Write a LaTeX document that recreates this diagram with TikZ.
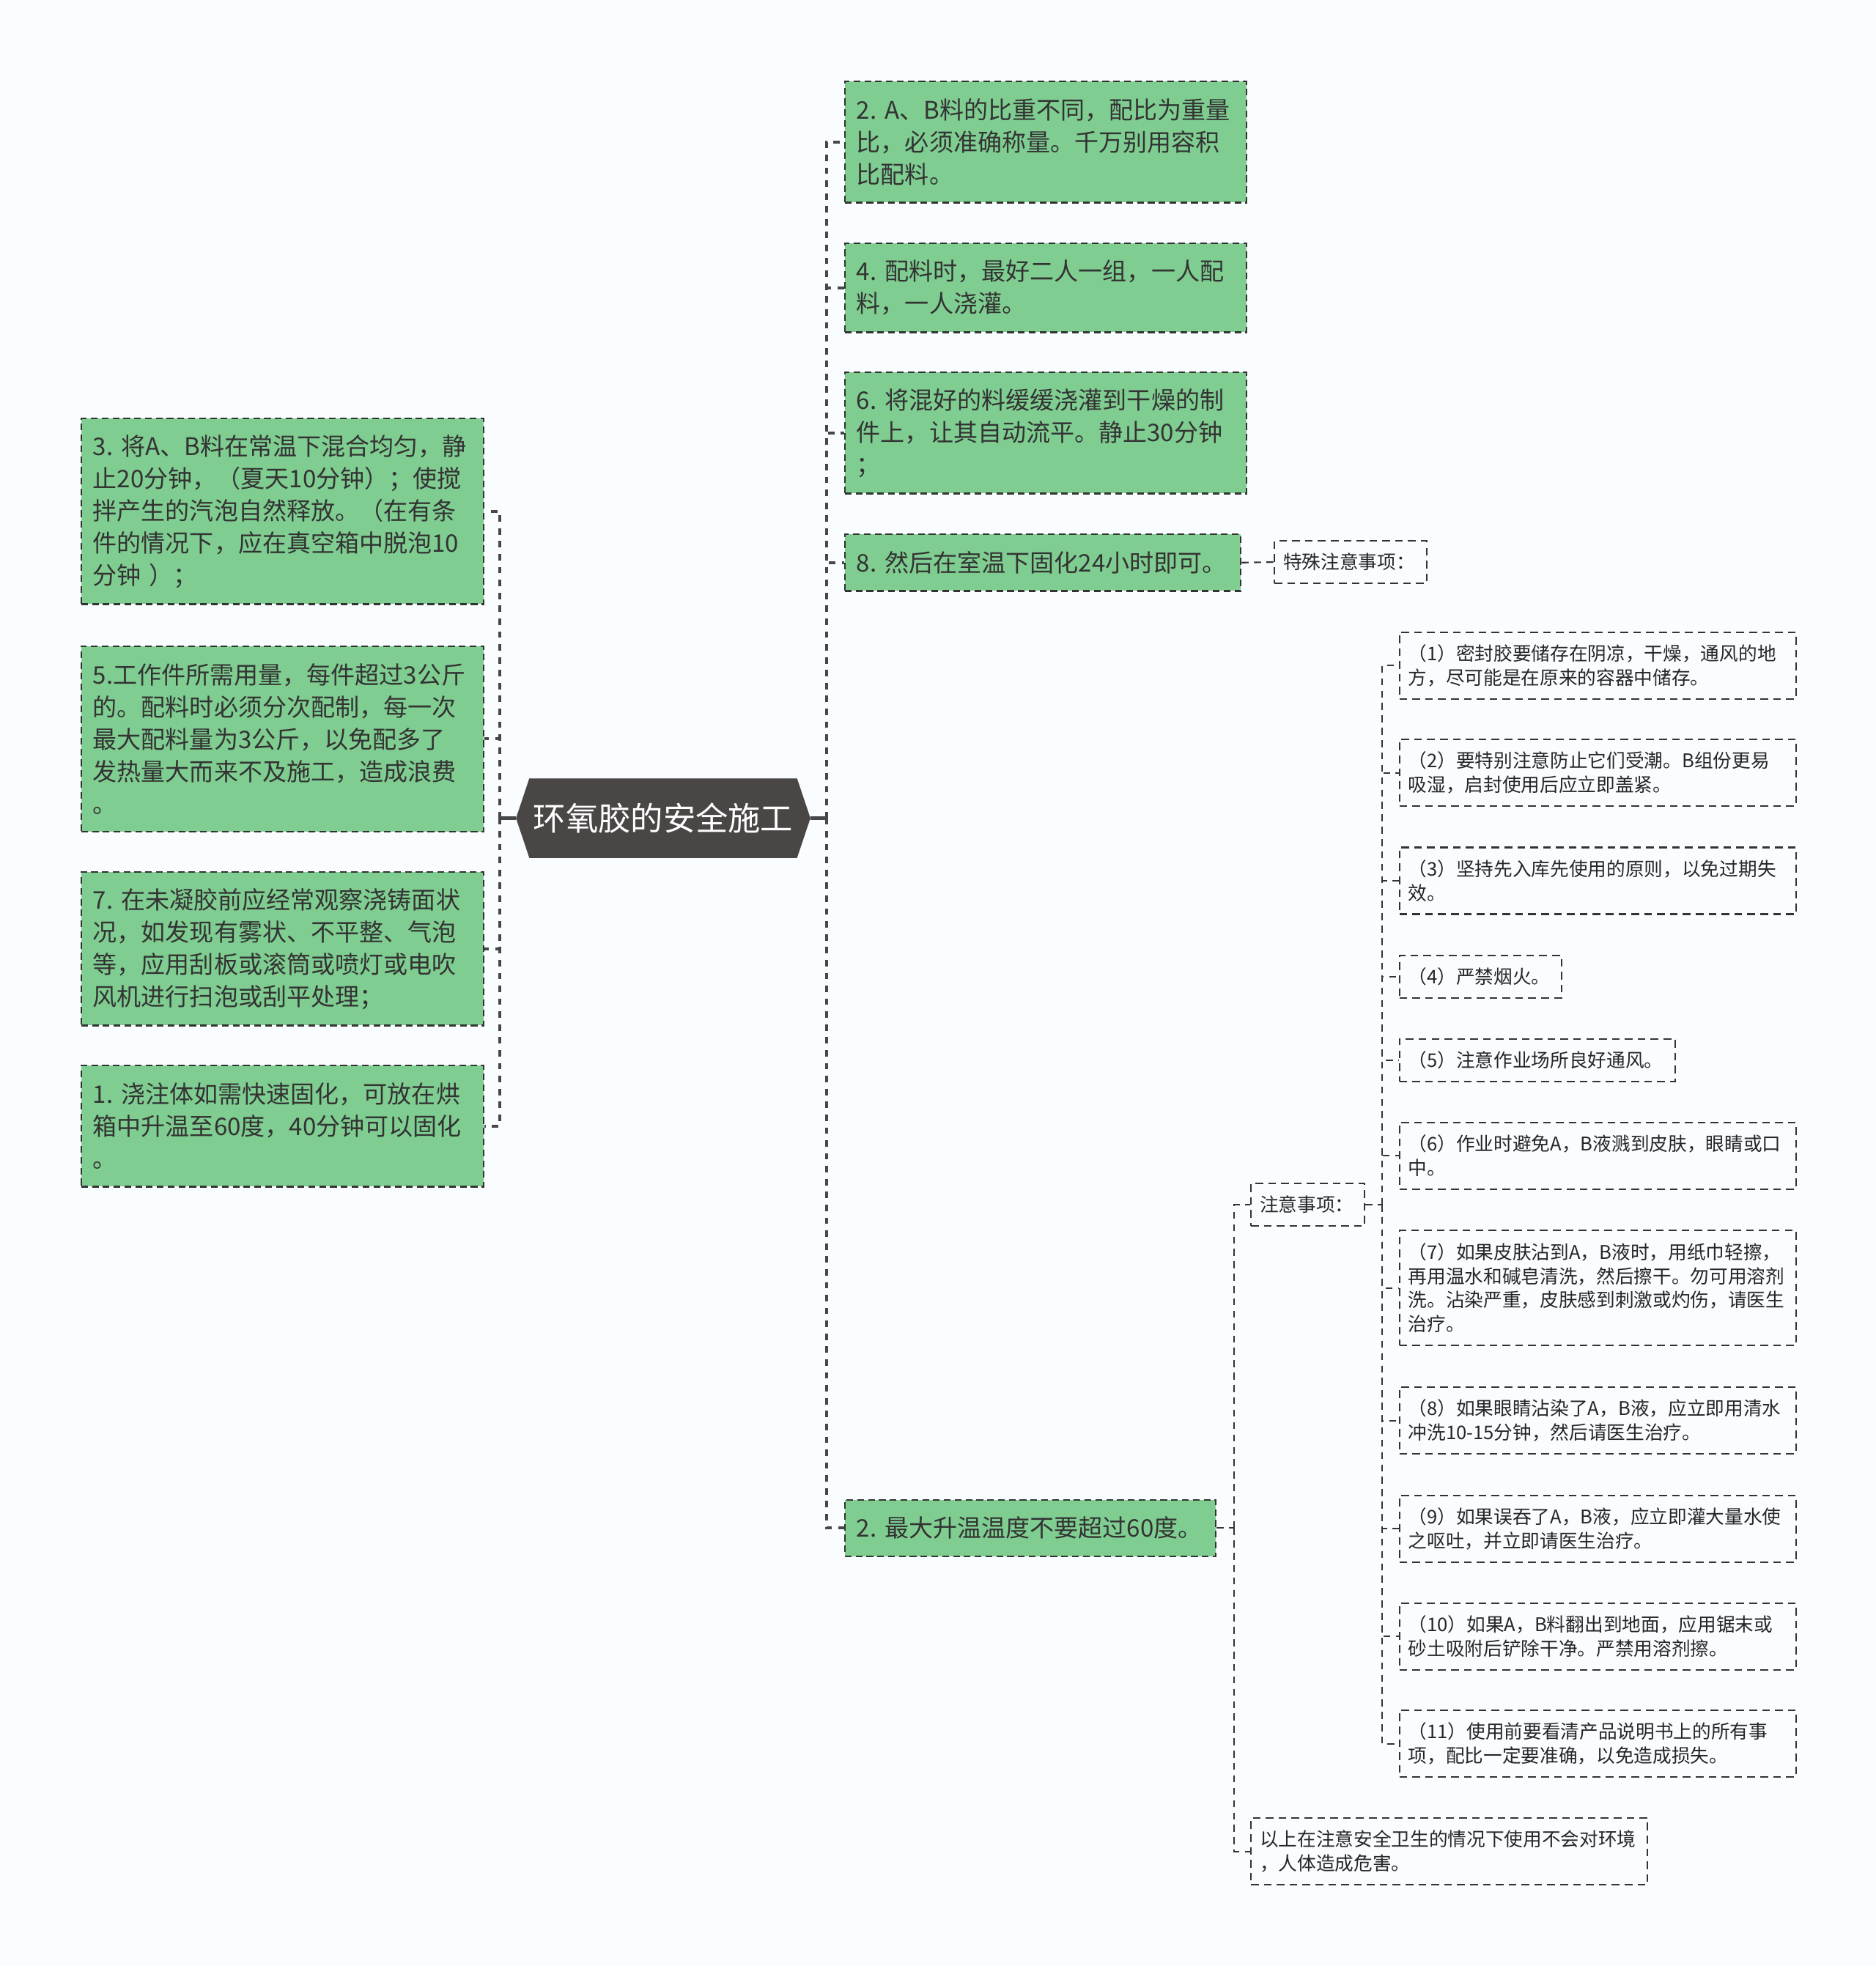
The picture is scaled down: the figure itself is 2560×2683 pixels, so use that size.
\documentclass[tikz,border=0pt]{standalone}
\usepackage{fontspec}
\setmainfont{Noto Sans CJK SC}
\usetikzlibrary{shapes.symbols}
\definecolor{leaf}{HTML}{7FCD91}
\definecolor{hub}{HTML}{4B4646}
\definecolor{edge}{HTML}{333333}
\definecolor{paper}{RGB}{250,253,255}

\begin{document}
\begin{tikzpicture}[x=0.01cm,y=-0.01cm,
    rootbox/.style={shape=signal,signal to=west and east,signal pointer angle=143,
      fill=hub,draw=hub,text=white,minimum width=4cm,minimum height=1.07cm,
      inner sep=0pt,font=\fontsize{12.6pt}{15pt}\selectfont},
    gbox/.style={fill=leaf,draw=edge,line width=0.7pt,dash pattern=on 2.6pt off 1.6pt,
      anchor=north west,align=left,inner xsep=0.16cm,inner ysep=0pt,text=edge,
      font=\fontsize{9.4pt}{12.52pt}\selectfont},
    sbox/.style={fill=paper,draw=edge,line width=0.6pt,dash pattern=on 3pt off 2pt,
      anchor=north west,align=left,inner xsep=0.12cm,inner ysep=0pt,text=black!85,
      font=\fontsize{7.3pt}{9.33pt}\selectfont},
    stem/.style={draw=edge!90,line width=1.2pt},
    trunk/.style={draw=edge!90,line width=1.2pt,dash pattern=on 2.5pt off 2.5pt},
    twig/.style={draw=edge,line width=0.6pt,dash pattern=on 2.7pt off 2.1pt}]

  \fill[paper] (0,0) rectangle (2560,2683);

  % hub
  \node[rootbox] (root) at (905,1116.5) {环氧胶的安全施工};
  \coordinate (ltrunk) at (682,1116.5);
  \coordinate (rtrunk) at (1128,1116.5);

  % left steps
  \node[gbox,text width=5.17cm,minimum height=2.53cm] (l3) at (109.5,570)
    {3.~将A、B料在常温下混合均匀，静\\止20分钟，（夏天10分钟）；使搅\\拌产生的汽泡自然释放。（在有条\\件的情况下，应在真空箱中脱泡10\\分钟~）；};
  \node[gbox,text width=5.17cm,minimum height=2.53cm] (l5) at (109.5,880.5)
    {5.工作件所需用量，每件超过3公斤\\的。配料时必须分次配制，每一次\\最大配料量为3公斤，以免配多了\\发热量大而来不及施工，造成浪费\\。};
  \node[gbox,text width=5.17cm,minimum height=2.09cm] (l7) at (109.5,1189)
    {7.~在未凝胶前应经常观察浇铸面状\\况，如发现有雾状、不平整、气泡\\等，应用刮板或滚筒或喷灯或电吹\\风机进行扫泡或刮平处理；};
  \node[gbox,text width=5.17cm,minimum height=1.65cm] (l1) at (109.5,1453)
    {1.~浇注体如需快速固化，可放在烘\\箱中升温至60度，40分钟可以固化\\。};

  % right steps
  \node[gbox,text width=5.16cm,minimum height=1.65cm] (r2) at (1151.6,110)
    {2.~A、B料的比重不同，配比为重量\\比，必须准确称量。千万别用容积\\比配料。};
  \node[gbox,text width=5.16cm,minimum height=1.21cm] (r4) at (1151.6,331)
    {4.~配料时，最好二人一组，一人配\\料，一人浇灌。};
  \node[gbox,text width=5.16cm,minimum height=1.65cm] (r6) at (1151.6,507)
    {6.~将混好的料缓缓浇灌到干燥的制\\件上，让其自动流平。静止30分钟\\；};
  \node[gbox,text width=5.08cm,minimum height=0.77cm] (r8) at (1151.6,728)
    {8.~然后在室温下固化24小时即可。};
  \node[gbox,text width=4.74cm,minimum height=0.77cm] (rb) at (1151.6,2045.5)
    {2.~最大升温温度不要超过60度。};

  \node[sbox,text width=1.84cm,minimum height=0.58cm] (t1) at (1738,737) {特殊注意事项：};
  \node[sbox,text width=1.31cm,minimum height=0.58cm] (n1) at (1706,1614) {注意事项：};
  \node[sbox,text width=5.17cm,minimum height=0.91cm] (z1) at (1706,2480)
    {以上在注意安全卫生的情况下使用不会对环境\\，人体造成危害。};

  % notes
  \node[sbox,text width=5.17cm,minimum height=0.91cm] (s1) at (1908.6,861.5)
    {（1）密封胶要储存在阴凉，干燥，通风的地\\方，尽可能是在原来的容器中储存。};
  \node[sbox,text width=5.17cm,minimum height=0.91cm] (s2) at (1908.6,1008)
    {（2）要特别注意防止它们受潮。B组份更易\\吸湿，启封使用后应立即盖紧。};
  \node[sbox,text width=5.17cm,minimum height=0.91cm] (s3) at (1908.6,1155.4)
    {（3）坚持先入库先使用的原则，以免过期失\\效。};
  \node[sbox,text width=1.97cm,minimum height=0.58cm] (s4) at (1908.6,1302.7)
    {（4）严禁烟火。};
  \node[sbox,text width=3.52cm,minimum height=0.58cm] (s5) at (1908.6,1416.5)
    {（5）注意作业场所良好通风。};
  \node[sbox,text width=5.17cm,minimum height=0.91cm] (s6) at (1908.6,1530.6)
    {（6）作业时避免A，B液溅到皮肤，眼睛或口\\中。};
  \node[sbox,text width=5.17cm,minimum height=1.57cm] (s7) at (1908.6,1678)
    {（7）如果皮肤沾到A，B液时，用纸巾轻擦，\\再用温水和碱皂清洗，然后擦干。勿可用溶剂\\洗。沾染严重，皮肤感到刺激或灼伤，请医生\\治疗。};
  \node[sbox,text width=5.17cm,minimum height=0.91cm] (s8) at (1908.6,1892)
    {（8）如果眼睛沾染了A，B液，应立即用清水\\冲洗10-15分钟，然后请医生治疗。};
  \node[sbox,text width=5.17cm,minimum height=0.91cm] (s9) at (1908.6,2039.5)
    {（9）如果误吞了A，B液，应立即灌大量水使\\之呕吐，并立即请医生治疗。};
  \node[sbox,text width=5.17cm,minimum height=0.91cm] (s10) at (1908.6,2186.8)
    {（10）如果A，B料翻出到地面，应用锯末或\\砂土吸附后铲除干净。严禁用溶剂擦。};
  \node[sbox,text width=5.17cm,minimum height=0.91cm] (s11) at (1908.6,2333)
    {（11）使用前要看清产品说明书上的所有事\\项，配比一定要准确，以免造成损失。};

  % links
  \draw[stem] (root.west) -- (ltrunk);
  \draw[stem] (root.east) -- (rtrunk);
  \foreach \n in {l3,l5,l7,l1}{
    \draw[trunk] (ltrunk) |- (\n.east);
  }
  \foreach \n in {r2,r4,r6,r8,rb}{
    \draw[trunk] (rtrunk) |- (\n.west);
  }
  \draw[twig] (r8.east) -- (t1.west);
  \coordinate (btrunk) at ([xshift=0.24cm]rb.east);
  \draw[twig] (rb.east) -- (btrunk);
  \foreach \n in {n1,z1}{
    \draw[twig] (btrunk) |- (\n.west);
  }
  \coordinate (ntrunk) at ([xshift=0.23cm]n1.east);
  \draw[twig] (n1.east) -- (ntrunk);
  \foreach \i in {1,...,11}{
    \draw[twig] (ntrunk) |- (s\i.west);
  }
\end{tikzpicture}
\end{document}
